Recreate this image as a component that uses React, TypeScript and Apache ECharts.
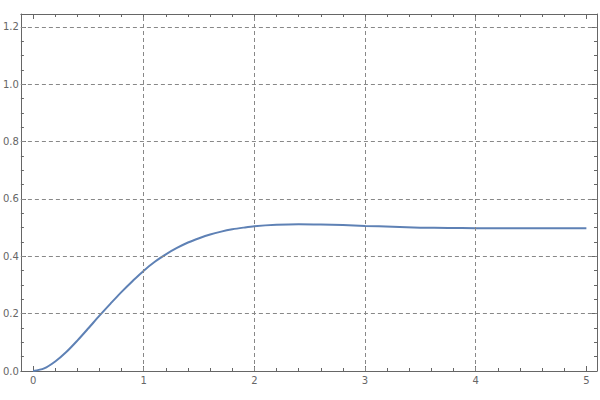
import React, { useEffect, useRef } from "react";
import * as echarts from "echarts";

// Time values (x)
const xs = [
  0, 0.1, 0.2, 0.3, 0.4, 0.5, 0.6, 0.7, 0.8, 0.9, 1.0, 1.1, 1.2, 1.3, 1.4, 1.5,
  1.6, 1.7, 1.8, 1.9, 2.0, 2.2, 2.4, 2.6, 2.8, 3.0, 3.25, 3.5, 3.75, 4.0, 4.5, 5.0,
];
// Response values (y)
const ys = [
  0, 0.009, 0.033, 0.066, 0.106, 0.149, 0.193, 0.235, 0.276, 0.314, 0.35, 0.381,
  0.407, 0.429, 0.448, 0.463, 0.476, 0.486, 0.494, 0.5, 0.505, 0.51, 0.512,
  0.511, 0.509, 0.506, 0.503, 0.5, 0.499, 0.498, 0.498, 0.498,
];
// Grid lines
const xGridLines = [1, 2, 3, 4];
const yGridLines = [0.2, 0.4, 0.6, 0.8, 1.0, 1.2];

const X_MIN = -0.11;
const X_MAX = 5.096;
const Y_MIN = 0;
const Y_MAX = 1.245;

const FRAME = "#666666";
const LABEL = "#666666";
const GRID = "#888888";
const LINE = "#5E81B5";
const FONT = "DejaVu Sans";

export default function App() {
  const ref = useRef<HTMLDivElement>(null);

  useEffect(() => {
    document.body.style.margin = "0";
    if (!ref.current) return;
    const chart = echarts.init(ref.current, undefined, { renderer: "svg" });

    const isMultiple = (v: number, step: number) =>
      Math.abs(v / step - Math.round(v / step)) < 1e-6;

    const commonX = {
      type: "value" as const,
      min: X_MIN,
      max: X_MAX,
      splitNumber: 5,
      axisLine: { show: true, onZero: false, lineStyle: { color: FRAME, width: 1 } },
      axisTick: { show: true, inside: true, length: 5, lineStyle: { color: FRAME } },
      minorTick: { show: true, splitNumber: 5, length: 3, lineStyle: { color: FRAME } },
      splitLine: { show: false },
      minorSplitLine: { show: false },
    };
    const commonY = {
      type: "value" as const,
      min: Y_MIN,
      max: Y_MAX,
      interval: 0.2,
      axisLine: { show: true, onZero: false, lineStyle: { color: FRAME, width: 1 } },
      axisTick: { show: true, inside: true, length: 5, lineStyle: { color: FRAME } },
      minorTick: { show: true, splitNumber: 4, length: 3, lineStyle: { color: FRAME } },
      splitLine: { show: false },
      minorSplitLine: { show: false },
    };

    chart.setOption({
      animation: false,
      backgroundColor: "#ffffff",
      grid: { left: 18, right: 2, top: 14, bottom: 29, containLabel: false },
      xAxis: [
        {
          ...commonX,
          position: "bottom",
          axisLabel: {
            show: true,
            margin: 4,
            color: LABEL,
            fontFamily: FONT,
            fontSize: 10,
            hideOverlap: false,
            formatter: (v: number) => (isMultiple(v, 1) ? String(Math.round(v)) : ""),
          },
        },
        {
          ...commonX,
          position: "top",
          axisLabel: { show: false },
        },
      ],
      yAxis: [
        {
          ...commonY,
          position: "left",
          axisLabel: {
            show: true,
            margin: 2,
            color: LABEL,
            fontFamily: FONT,
            fontSize: 10,
            formatter: (v: number) => (isMultiple(v, 0.2) ? v.toFixed(1) : ""),
          },
        },
        {
          ...commonY,
          position: "right",
          axisLabel: { show: false },
        },
      ],
      series: [
        {
          type: "line",
          xAxisIndex: 0,
          yAxisIndex: 0,
          data: xs.map((x, i) => [x, ys[i]]),
          showSymbol: false,
          smooth: 0.3,
          lineStyle: { color: LINE, width: 2 },
          z: 3,
          markLine: {
            silent: true,
            symbol: "none",
            label: { show: false },
            lineStyle: { color: GRID, width: 1, type: [4, 3] },
            data: [
              ...xGridLines.map((x) => ({ xAxis: x })),
              ...yGridLines.map((y) => ({ yAxis: y })),
            ],
          },
        },
      ],
    });

    return () => chart.dispose();
  }, []);

  return <div ref={ref} style={{ width: 600, height: 400 }} />;
}
